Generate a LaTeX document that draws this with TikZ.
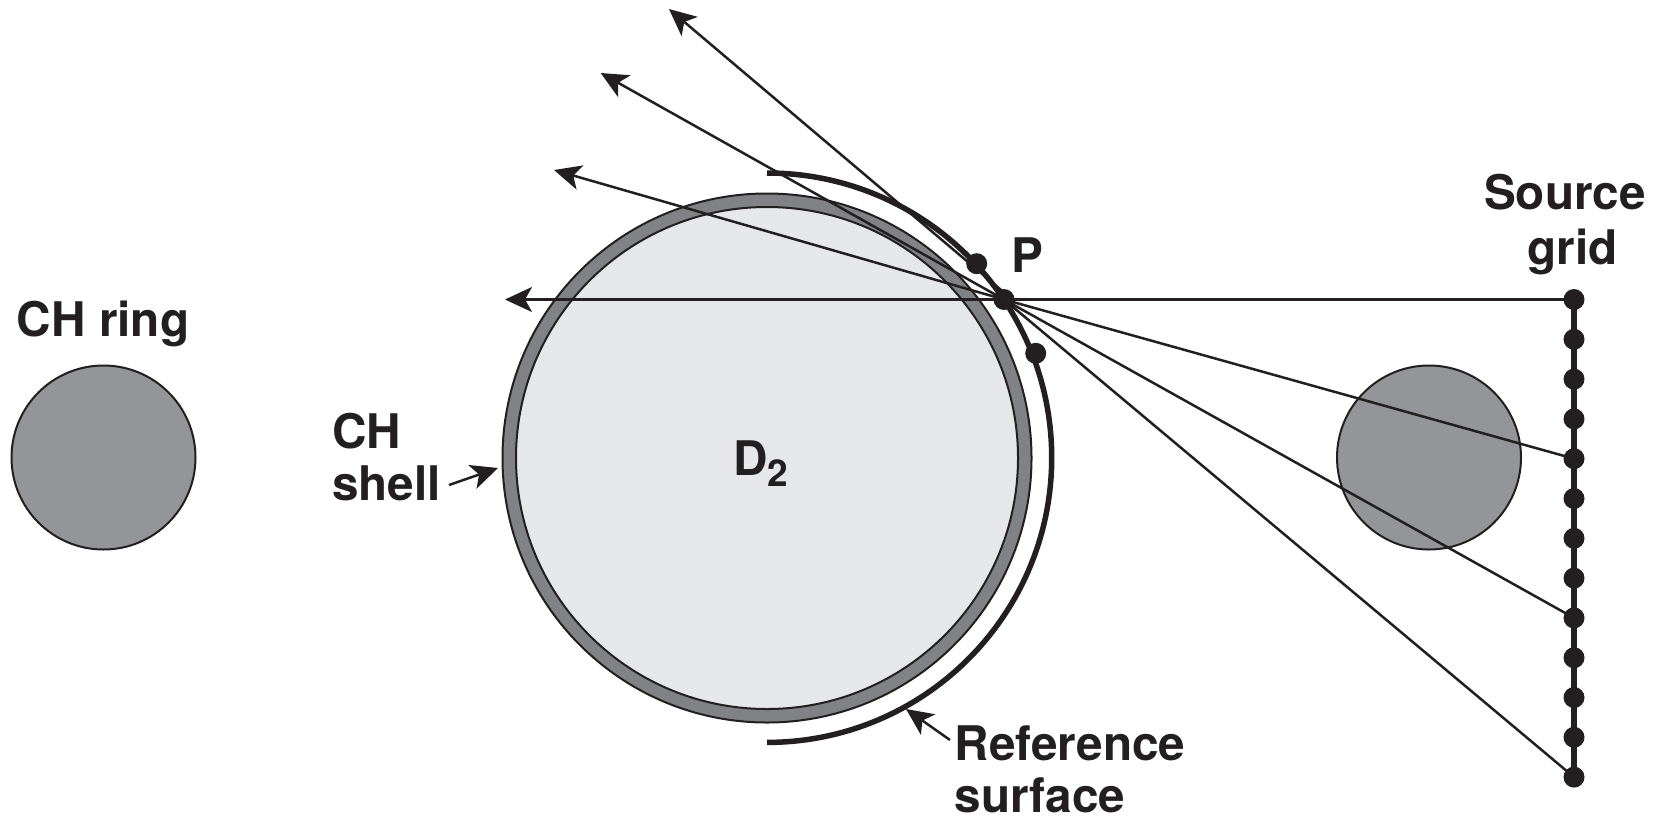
\documentclass[tikz,border=0pt]{standalone}
\usepackage{fontspec}
\setmainfont{TeX Gyre Heros}
\usetikzlibrary{arrows.meta}
\definecolor{ink}{HTML}{231F20}
\definecolor{shellgrey}{HTML}{808285}
\definecolor{fuel}{HTML}{E6E7E8}
\definecolor{ringgrey}{HTML}{939598}
\tikzset{
  disc/.style={circle,draw=ink,line width=2pt,inner sep=0pt,minimum size=#1},
  dotmark/.style={circle,fill=ink,inner sep=0pt,minimum size=21pt},
  lbl/.style={text=ink,font=\fontsize{47.7}{52}\selectfont\bfseries,inner sep=0pt,anchor=base},
  lbll/.style={lbl,anchor=base west},
  ray/.style={draw=ink,line width=2.5pt},
  rayarrow/.style={ray,-{Stealth[length=27pt,width=25pt,inset=7pt]}},
  thick surf/.style={draw=ink,line width=5.5pt},
}
\begin{document}
\begin{tikzpicture}[x=1pt,y=-1pt]
\useasboundingbox (0,-1) rectangle (1656,816);
% capsule
\node[disc=529pt,fill=shellgrey] (shell) at (767,457) {};
\node[disc=502pt,fill=fuel] (fuelcirc) at (767,457) {};
% CH rings
\node[disc=184pt,fill=ringgrey] (ringL) at (103.5,456.5) {};
\node[disc=184pt,fill=ringgrey] (ringR) at (1429,456.5) {};
% reference surface
\coordinate (refTop) at (767,172);
\draw[thick surf] (refTop) arc[start angle=90,end angle=-90,radius=284.7pt];
% source grid
\foreach \i in {0,...,12}{
  \node[dotmark] (g\i) at (1574,{298.5+39.8*\i}) {};
}
\draw[thick surf] (g0.center) -- (g12.center);
% surface points
\node[dotmark] (P) at (1004,298.5) {};
\node[dotmark] (Pu) at (976.7,262.7) {};
\node[dotmark] (Pl) at (1035.7,352.3) {};
\coordinate (Ptop) at (1004,291.5);
% ray tips
\coordinate (t0) at (505,298.5);
\coordinate (t1) at (554,169);
\coordinate (t2) at (600.7,72);
\coordinate (t3) at (669,8);
\draw[rayarrow] (g0.center) -- (P.center) -- (t0);
\draw[rayarrow] (g4.center) -- (P.center) -- (t1);
\draw[rayarrow] (g8.center) -- (P.center) -- (t2);
\draw[ray] (g12.center) -- (P.center);
\draw[rayarrow] (Ptop) -- (t3);
% labels
\node[lbl] (lring) at (103,335) {CH ring};
\node[lbll] (lch) at (332,447.5) {CH};
\node[lbll] (lshell) at (332,499.5) {shell};
\node[lbl] (ld) at (761,474) {D\raisebox{-11pt}{\fontsize{37}{37}\selectfont 2}};
\node[lbll] (lp) at (1011,271) {P};
\node[lbl] (ls1) at (1565,208) {Source};
\node[lbl] (ls2) at (1572.5,263) {grid};
\node[lbll] (lr1) at (954.5,759) {Reference};
\node[lbll] (lr2) at (954.5,811) {surface};
% label arrows
\coordinate (ashellA) at (449,484);
\coordinate (ashellB) at (498,467);
\coordinate (arefA) at (950,739);
\coordinate (arefB) at (906,708);
\draw[rayarrow] (ashellA) -- (ashellB);
\draw[rayarrow] (arefA) -- (arefB);
\end{tikzpicture}
\end{document}
